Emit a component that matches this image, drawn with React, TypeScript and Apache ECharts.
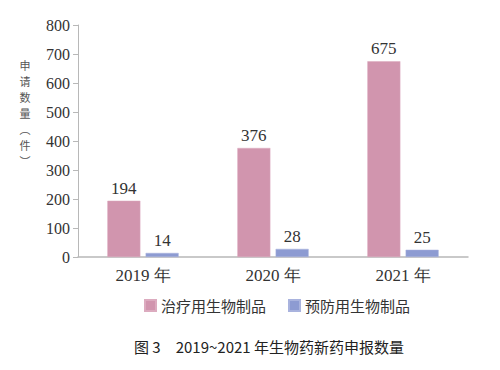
import React, { useEffect, useRef } from "react";
import * as echarts from "echarts";

const categories = ["2019 年", "2020 年", "2021 年"];
const therapeutic = [194, 376, 675];
const preventive = [14, 28, 25];
const seriesNames = ["治疗用生物制品", "预防用生物制品"];
const yAxisName = ["申", "请", "数", "量", "︵", "件", "︶"];
const caption = "图 3　2019~2021 年生物药新药申报数量";

const SERIF = "'Liberation Serif', 'DejaVu Serif', serif";
const CJK = "'Noto Sans CJK SC', 'Noto Sans', sans-serif";

export default function App() {
  const ref = useRef<HTMLDivElement>(null);
  useEffect(() => {
    document.body.style.margin = "0";
    const chart = echarts.init(ref.current!, null, { renderer: "svg" });
    const nameChars = yAxisName.map((ch, i) => ({
      type: "text",
      x: 25,
      y: 65 + i * 16,
      style: {
        text: ch,
        fontFamily: CJK,
        fontSize: 11,
        fill: "#555",
        align: "center",
        verticalAlign: "middle",
      },
    }));
    chart.setOption({
      animation: false,
      backgroundColor: "#ffffff",
      grid: { left: 78, right: 32, top: 25, bottom: 113 },
      legend: {
        left: 144,
        top: 298,
        padding: 0,
        itemWidth: 11,
        itemHeight: 11,
        itemGap: 22,
        icon: "rect",
        textStyle: { fontFamily: CJK, fontSize: 15, color: "#333" },
        data: seriesNames,
      },
      xAxis: {
        type: "category",
        data: categories,
        axisLine: { lineStyle: { color: "#b8b8b8", width: 1.5 } },
        axisTick: { show: false },
        axisLabel: {
          margin: 10,
          fontSize: 17,
          color: "#333",
          fontFamily: SERIF,
        },
      },
      yAxis: {
        type: "value",
        min: 0,
        max: 800,
        interval: 100,
        splitLine: { show: false },
        axisLine: { show: true, lineStyle: { color: "#b8b8b8", width: 1 } },
        axisTick: { show: true, length: 5, lineStyle: { color: "#b8b8b8" } },
        axisLabel: {
          margin: 8,
          fontSize: 16,
          color: "#333",
          fontFamily: SERIF,
        },
      },
      series: [
        {
          name: seriesNames[0],
          type: "bar",
          data: therapeutic,
          barWidth: 33,
          barGap: "16%",
          itemStyle: { color: "#D195AE", borderColor: "#dcabbf", borderWidth: 0.5 },
          label: {
            show: true,
            position: "top",
            distance: 4,
            fontSize: 17,
            color: "#333",
            fontFamily: SERIF,
          },
        },
        {
          name: seriesNames[1],
          type: "bar",
          data: preventive,
          barWidth: 33,
          itemStyle: { color: "#8D9BD2", borderColor: "#a9b3de", borderWidth: 0.5 },
          label: {
            show: true,
            position: "top",
            distance: 4,
            fontSize: 17,
            color: "#333",
            fontFamily: SERIF,
          },
        },
      ],
      graphic: [
        ...nameChars,
        {
          type: "text",
          x: 134,
          y: 346,
          style: {
            text: caption,
            fontFamily: CJK,
            fontSize: 15,
            fill: "#222",
            align: "left",
            verticalAlign: "middle",
          },
        },
      ],
    });
    return () => chart.dispose();
  }, []);
  return <div ref={ref} style={{ width: 500, height: 370 }} />;
}
